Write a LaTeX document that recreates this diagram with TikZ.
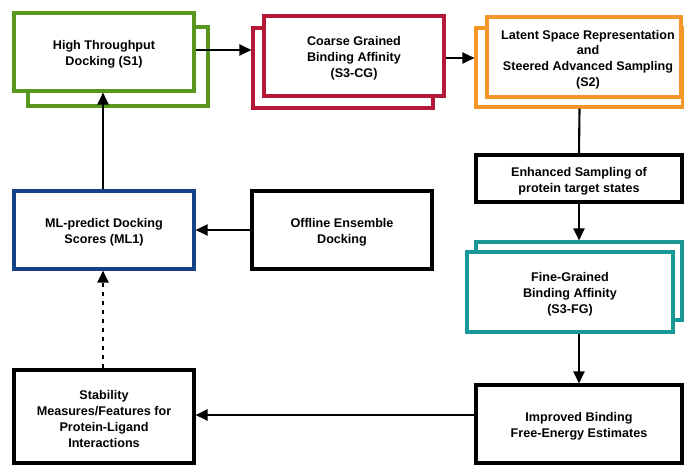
\documentclass[tikz,border=0pt]{standalone}
\usepackage{fontspec}
\setmainfont{Liberation Sans}
\usetikzlibrary{arrows.meta,shadows}
\definecolor{cgreen}{RGB}{88,150,30}
\definecolor{cred}{RGB}{180,25,55}
\definecolor{corange}{RGB}{245,150,40}
\definecolor{cteal}{RGB}{25,150,150}
\definecolor{cblue}{RGB}{20,65,135}
\begin{document}
\begin{tikzpicture}[x=1pt,y=-1pt,
  box/.style={draw, line width=3.1pt, fill=white, inner sep=0pt,
    drop shadow={shadow xshift=1.5pt, shadow yshift=-1.5pt, opacity=0.28, fill=black}},
  txt/.style={align=center, inner sep=0pt, yshift=-2.5pt,
    font=\bfseries\fontsize{12.6}{15.8}\selectfont},
  conn/.style={line width=2.1pt, -{Triangle[length=12pt,width=11pt]}},
  plainconn/.style={line width=2.1pt},
  dotconn/.style={line width=2.1pt, dash pattern=on 4pt off 5pt, -{Triangle[length=12pt,width=11pt]}},
]
\useasboundingbox (0,0) rectangle (684,464);
% top row
\node[box, draw=cgreen, minimum width=180pt, minimum height=79pt] (s1b) at (118,66.5) {};
\node[box, draw=cgreen, minimum width=180pt, minimum height=78pt,
  label={[txt]center:High Throughput\\Docking (S1)}] (s1f) at (104,52) {};
\node[box, draw=cred, minimum width=180pt, minimum height=80pt] (cgb) at (343,68) {};
\node[box, draw=cred, minimum width=180pt, minimum height=80pt,
  label={[txt]center:Coarse Grained\\Binding Affinity\\(S3-CG)}] (cgf) at (354,56) {};
\node[box, draw=corange, minimum width=207pt, minimum height=79pt] (s2b) at (579.5,67.5) {};
\node[box, draw=corange, minimum width=194pt, minimum height=80pt,
  label={[txt,xshift=4pt]center:Latent Space Representation\\and\\Steered Advanced Sampling\\(S2)}] (s2f) at (584,57) {};
% right column
\node[box, draw=black, minimum width=206pt, minimum height=47pt,
  label={[txt]center:Enhanced Sampling of\\protein target states}] (enh) at (579,178.5) {};
\node[box, draw=cteal, minimum width=206pt, minimum height=78pt] (fgb) at (579,281) {};
\node[box, draw=cteal, minimum width=206pt, minimum height=80pt,
  label={[txt]center:Fine-Grained\\Binding Affinity\\(S3-FG)}] (fgf) at (570,292) {};
\node[box, draw=black, minimum width=206pt, minimum height=78pt,
  label={[txt]center:Improved Binding\\Free-Energy Estimates}] (imp) at (579,424) {};
% left column
\node[box, draw=cblue, minimum width=180pt, minimum height=78pt,
  label={[txt]center:ML-predict Docking\\Scores (ML1)}] (ml) at (104,230) {};
\node[box, draw=black, minimum width=180pt, minimum height=78pt,
  label={[txt]center:Offline Ensemble\\Docking}] (off) at (342,230) {};
\node[box, draw=black, minimum width=180pt, minimum height=93pt,
  label={[txt]center:Stability\\Measures/Features for\\Protein-Ligand\\Interactions}] (stab) at (104,416.5) {};
% connectors
\draw[conn] ([yshift=2pt]s1f.east) -- ([yshift=2pt]s1f.east -| cgb.west);
\draw[conn] ([yshift=-2pt]cgf.east) -- ([yshift=-2pt]cgf.east -| s2b.west);
\draw[plainconn] (s2b.south) -- (enh.north);
\draw[conn] (enh.south) -- (fgb.north);
\draw[conn] (imp.north |- fgf.south) -- (imp.north);
\draw[conn] ([yshift=1.5pt]stab.east -| imp.west) -- ([yshift=1.5pt]stab.east);
\draw[conn] (off.west) -- (ml.east);
\draw[dotconn] ([xshift=-1pt]stab.north) -- ([xshift=-1pt]ml.south);
\draw[conn] ([xshift=-1pt]ml.north) -- ([xshift=-1pt]s1f.south);
\end{tikzpicture}
\end{document}
